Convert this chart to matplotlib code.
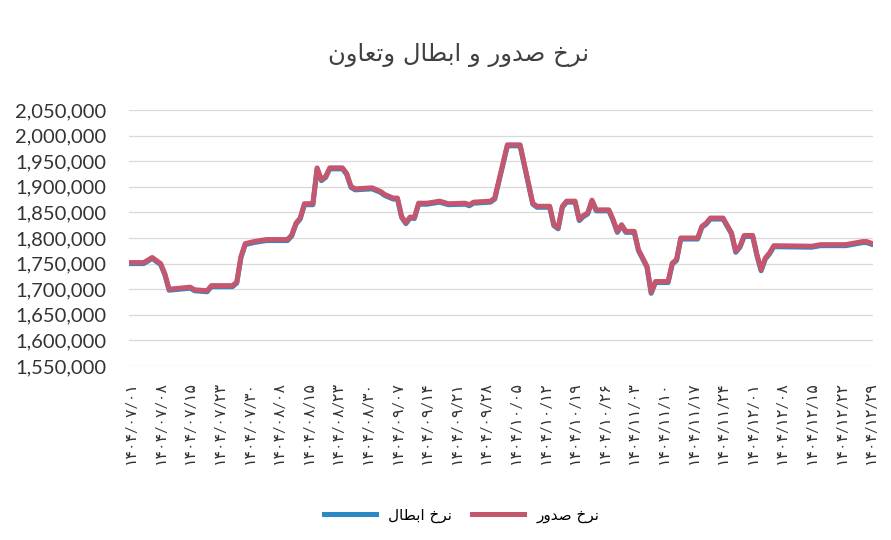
import matplotlib
matplotlib.use("Agg")
import matplotlib.pyplot as plt
from matplotlib.ticker import FuncFormatter

plt.rcParams['font.family'] = ['Lato', 'DejaVu Sans']

# day index (from 1404/07/01) and rate at each turning point of the line
days = [0, 3, 5, 7, 8, 9, 14, 15, 18, 19, 24, 25, 26, 27, 29, 32, 37, 38, 39, 40,
        41, 43, 44, 45, 46, 47, 50, 51, 52, 53, 57, 59, 60, 62, 63, 64, 65, 66, 67, 68,
        70, 73, 75, 79, 80, 81, 85, 86, 89, 92, 95, 96, 99, 100, 101, 102, 103, 105, 106, 107,
        108, 109, 110, 113, 114, 115, 116, 117, 119, 120, 122, 123, 124, 127, 128, 129, 130, 134, 135, 136,
        137, 140, 142, 143, 144, 145, 147, 148, 149, 150, 151, 152, 161, 163, 169, 171, 173, 174, 175]

sodur = [1752000, 1752000, 1762000, 1750000, 1730000, 1700000, 1704000, 1699000, 1697000, 1707000,
         1707000, 1714000, 1764000, 1789000, 1793000, 1797000, 1797000, 1806000, 1829000, 1839000,
         1867000, 1867000, 1937000, 1914000, 1920000, 1937000, 1937000, 1926000, 1901000, 1896000,
         1898000, 1891000, 1885000, 1878000, 1878000, 1842000, 1830000, 1841000, 1840000, 1868000,
         1868000, 1872000, 1867000, 1868000, 1865000, 1870000, 1872000, 1878000, 1982000, 1982000,
         1868000, 1862000, 1862000, 1826000, 1820000, 1862000, 1872000, 1872000, 1836000, 1844000,
         1849000, 1874000, 1855000, 1855000, 1836000, 1813000, 1826000, 1813000, 1813000, 1777000,
         1745000, 1694000, 1715000, 1715000, 1751000, 1758000, 1800000, 1800000, 1823000, 1829000,
         1839000, 1839000, 1810000, 1774000, 1784000, 1805000, 1805000, 1768000, 1738000, 1761000,
         1771000, 1785000, 1784000, 1787000, 1787000, 1790000, 1793000, 1793000, 1790000]

ebtal = [1750000, 1750000, 1760000, 1748000, 1728000, 1698000, 1702000, 1697000, 1695000, 1705000,
         1705000, 1712000, 1762000, 1787000, 1791000, 1795000, 1795000, 1804000, 1827000, 1837000,
         1865000, 1865000, 1935000, 1912000, 1918000, 1935000, 1935000, 1924000, 1899000, 1894000,
         1896000, 1889000, 1883000, 1876000, 1876000, 1840000, 1828000, 1839000, 1838000, 1866000,
         1866000, 1870000, 1865000, 1866000, 1863000, 1868000, 1870000, 1876000, 1980000, 1980000,
         1866000, 1860000, 1860000, 1824000, 1818000, 1860000, 1870000, 1870000, 1834000, 1842000,
         1847000, 1872000, 1853000, 1853000, 1834000, 1811000, 1824000, 1811000, 1811000, 1775000,
         1743000, 1692000, 1713000, 1713000, 1749000, 1756000, 1798000, 1798000, 1821000, 1827000,
         1837000, 1837000, 1808000, 1772000, 1782000, 1803000, 1803000, 1766000, 1736000, 1759000,
         1769000, 1783000, 1782000, 1785000, 1785000, 1788000, 1791000, 1791000, 1788000]

tick_days = [0, 7, 14, 21, 28, 35, 42, 49, 56, 63, 70, 77, 84, 91, 98, 105, 112, 119, 126,
             133, 140, 147, 154, 161, 168, 175]
tick_labels = ["۱۴۰۴/۰۷/۰۱", "۱۴۰۴/۰۷/۰۸", "۱۴۰۴/۰۷/۱۵", "۱۴۰۴/۰۷/۲۳", "۱۴۰۴/۰۷/۳۰",
               "۱۴۰۴/۰۸/۰۸", "۱۴۰۴/۰۸/۱۵", "۱۴۰۴/۰۸/۲۳", "۱۴۰۴/۰۸/۳۰", "۱۴۰۴/۰۹/۰۷",
               "۱۴۰۴/۰۹/۱۴", "۱۴۰۴/۰۹/۲۱", "۱۴۰۴/۰۹/۲۸", "۱۴۰۴/۱۰/۰۵", "۱۴۰۴/۱۰/۱۲",
               "۱۴۰۴/۱۰/۱۹", "۱۴۰۴/۱۰/۲۶", "۱۴۰۴/۱۱/۰۳", "۱۴۰۴/۱۱/۱۰", "۱۴۰۴/۱۱/۱۷",
               "۱۴۰۴/۱۱/۲۴", "۱۴۰۴/۱۲/۰۱", "۱۴۰۴/۱۲/۰۸", "۱۴۰۴/۱۲/۱۵", "۱۴۰۴/۱۲/۲۲",
               "۱۴۰۴/۱۲/۲۹"]

# matplotlib does no arabic shaping, so the words are written in
# presentation forms, already in visual (left to right) order
w_nerkh = "\ufea5\ufeae\ufee7"                      # نرخ
w_sodur = "\ufead\ufeed\ufeaa\ufebb"                # صدور
w_ebtal = "\ufedd\ufe8e\ufec4\ufe91\ufe8d"          # ابطال
w_taavon = "\ufee5\ufeed\ufe8e\ufecc\ufe97\ufeed"   # وتعاون
w_va = "\ufeed"                                     # و

title = " ".join([w_taavon, w_ebtal, w_va, w_sodur, w_nerkh])
label_ebtal = w_ebtal + " " + w_nerkh
label_sodur = w_sodur + " " + w_nerkh

fig = plt.figure(figsize=(8.91, 5.4), dpi=100)
ax = fig.add_axes([0.1447, 0.3222, 0.8353, 0.4741])

ax.plot(days, ebtal, color="#2a8ac6", lw=3.6, solid_joinstyle="round", label=label_ebtal)
ax.plot(days, sodur, color="#c4566e", lw=3.6, solid_joinstyle="round", label=label_sodur)

ax.set_xlim(-0.5, 175.5)
ax.set_ylim(1550000, 2050000)
ax.set_yticks(range(1550000, 2050001, 50000))
ax.yaxis.set_major_formatter(FuncFormatter(lambda v, p: f"{v:,.0f}"))
ax.set_xticks(tick_days)
ax.set_xticklabels(tick_labels, rotation=90)

ax.tick_params(axis="y", length=0, pad=16, labelsize=14.5, labelcolor="#333333")
ax.tick_params(axis="x", length=0, pad=11, labelsize=11.5, labelcolor="#333333")
ax.grid(axis="y", color="#d9d9d9", lw=0.9)
ax.set_axisbelow(True)
for s in ax.spines.values():
    s.set_visible(False)

fig.text(0.515, 0.898, title, ha="center", va="center", fontsize=17.5, color="#404040",
         family="DejaVu Sans")

fig.legend(loc="center", bbox_to_anchor=(0.518, 0.046), ncol=2, frameon=False,
           handlelength=3.4, columnspacing=1.3, prop={"family": "DejaVu Sans", "size": 11})

fig.savefig("out.png", dpi=100)
